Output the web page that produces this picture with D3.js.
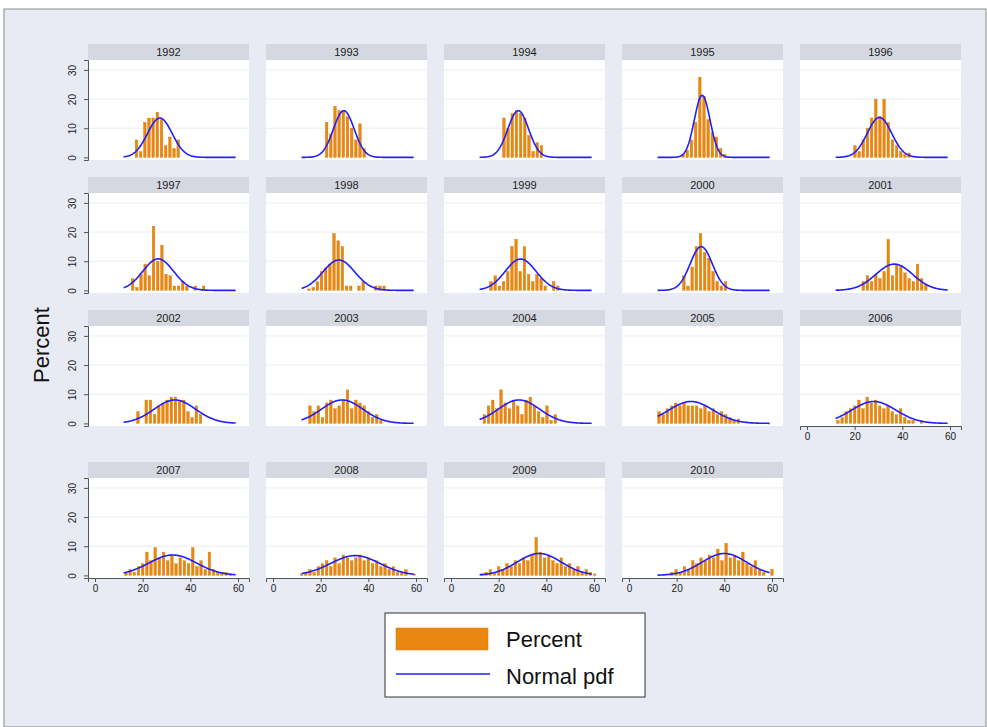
<!DOCTYPE html>
<html>
<head>
<meta charset="utf-8">
<script src="https://cdn.jsdelivr.net/npm/d3@7"></script>
<style>
  html, body { margin: 0; padding: 0; background: #ffffff; }
  svg { display: block; font-family: "Liberation Sans", Arial, sans-serif; }
</style>
</head>
<body>
<svg id="chart" width="987" height="727"></svg>
<script>
// Yearly histograms (percent per bin) with fitted normal curves.
const years = [1992, 1993, 1994, 1995, 1996, 1997, 1998, 1999, 2000, 2001,
               2002, 2003, 2004, 2005, 2006, 2007, 2008, 2009, 2010];

// Bin width shared by every panel, and the centre of each panel's first bin.
const binWidth = 1.75;
const firstBin = [17.4, 22.5, 22.2, 22.7, 20.1, 15.8, 15.1, 16.8, 23.0, 23.6,
                  18.0, 15.5, 14.0, 12.6, 13.0, 13.0, 12.0, 13.0, 18.0];

// Percent of observations in each consecutive bin.
const percents = [
  [6, 2, 12, 13.5, 13.5, 15.5, 13, 4, 7, 3, 6],
  [12, 8, 17.5, 16, 16, 14, 10, 6, 11.5, 3],
  [13.5, 10, 15, 16, 15, 13.5, 7.5, 2, 5, 4],
  [1, 2.5, 6, 12, 27.5, 21, 13, 8.5, 7, 3, 1],
  [4, 2, 6, 10, 13.5, 20, 14, 20, 12, 6, 4, 2, 1, 1.5],
  [4, 1, 5.5, 9, 5, 22, 10, 15.5, 5.5, 5, 1.5, 1.5, 3, 1.5, 0, 1.5, 0, 1.5],
  [0.5, 1, 3, 6.5, 7.7, 9, 19.5, 17, 15, 1.5, 1.5, 0, 1.5, 3, 0, 0, 1.5, 1.5, 1.5],
  [3, 5, 1.5, 3, 6.5, 15, 17.5, 6.5, 15, 5.5, 3, 5.5, 4, 1.5, 0, 3, 1.5],
  [5, 1.5, 8, 15, 19.5, 13, 11, 6.5, 3, 1.5, 3],
  [3, 5, 3, 5.5, 4, 6.5, 17.5, 5, 9, 8.5, 6, 4, 3, 9, 4, 2],
  [4, 0, 8, 8, 3, 6, 7, 8, 9, 9, 8, 8, 4, 2, 6, 3],
  [6, 4, 6, 2, 7, 8, 5, 6, 8, 11.5, 5, 8, 7, 6, 4, 2, 3, 1],
  [3, 6, 8, 5, 11.5, 7, 5, 8, 6, 3, 8, 9, 6, 4, 2, 6, 1, 3],
  [4, 3, 5, 6, 7, 6, 7, 6, 6, 6, 5, 6, 4, 5, 3, 4, 3, 2, 1, 1.5],
  [1, 2, 4, 5, 6, 8, 5, 9, 7, 8, 6, 5, 6, 4, 3, 5, 2, 1, 1, 0, 1],
  [1, 2, 1, 3, 4, 8, 5, 9.5, 6, 8, 5, 7, 4, 6, 5, 4, 9.5, 3, 5, 2, 8, 2, 1, 1, 1, 0.5],
  [0.5, 1, 2, 1, 3, 4, 5, 3, 6, 4, 7, 6, 5, 6, 7, 5, 6, 4, 5, 3, 4, 2, 3, 1, 1, 2, 0, 0.5],
  [0.5, 1, 2, 1, 3, 2, 4, 3, 5, 4, 6, 5, 7, 13, 8, 6, 7, 5, 4, 6, 3, 4, 2, 3, 1, 2, 1, 0.5],
  [1, 2, 1, 3, 2, 5, 4, 6, 5, 7, 6, 9, 5, 11, 6, 7, 5, 8, 4, 3, 5, 2, 1, 0, 2]
];

// Normal fit per year.
const means = [27.2, 29.7, 28.2, 30.7, 30.4, 26.5, 27.6, 29.2, 30.3, 36.6,
               33.5, 29.0, 28.5, 26.0, 28.0, 32.6, 34.5, 37.0, 40.0];
const sds   = [5.17, 4.36, 4.36, 3.28, 5.1, 6.46, 6.7, 6.5, 4.65, 7.75,
               8.7, 8.7, 8.7, 9.3, 9.3, 10.0, 10.3, 9.3, 9.3];

// Range over which the curves are traced (overall data range).
const curveRange = [12, 59];

const xTicks = [0, 20, 40, 60];
const yTicks = [0, 10, 20, 30];
const legendLabels = ["Percent", "Normal pdf"];
const yTitle = "Percent";

// ---- layout ----
const svg = d3.select("#chart");
const colLeft = [88, 266, 444, 622, 800];
const rowTop = [44, 177, 310, 462];
const panelW = 161, stripH = 16, plotH = 100;
const nCols = 5;

const barFill = "#e9870f", barEdge = "#d67a08", curveColor = "#1f1fff";
const bg = "#e8ebf3";

svg.append("rect")
  .attr("x", 4).attr("y", 9).attr("width", 982).attr("height", 718)
  .attr("fill", bg).attr("stroke", "#8a8a8a").attr("stroke-width", 1);

const x = d3.scaleLinear().domain([-2.94, 64.6]).range([0, panelW]);
const y = d3.scaleLinear().domain([-0.9, 33.4]).range([plotH, 0]);

const curveX = d3.range(curveRange[0], curveRange[1] + 0.001, 0.25);
const line = d3.line().x(d => x(d[0])).y(d => y(d[1])).curve(d3.curveLinear);

years.forEach((yr, i) => {
  const c = i % nCols, r = Math.floor(i / nCols);
  const g = svg.append("g")
    .attr("transform", `translate(${colLeft[c]},${rowTop[r]})`);

  // title strip
  g.append("rect").attr("x", 0).attr("y", 0).attr("width", panelW).attr("height", stripH)
    .attr("fill", "#d5d8e0");
  g.append("text").attr("x", panelW / 2).attr("y", 12)
    .attr("text-anchor", "middle").attr("font-size", 11).attr("fill", "#222")
    .text(yr);

  const p = g.append("g").attr("transform", `translate(0,${stripH})`);
  p.append("rect").attr("width", panelW).attr("height", plotH).attr("fill", "#ffffff");

  // faint gridlines
  p.selectAll("line.grid").data(yTicks.slice(1)).join("line")
    .attr("x1", 0).attr("x2", panelW)
    .attr("y1", d => y(d)).attr("y2", d => y(d))
    .attr("stroke", "#eceef2").attr("stroke-width", 1);

  // histogram bars, separated by thin gaps
  const bars = percents[i].map((v, k) => ({ c: firstBin[i] + k * binWidth, v }));
  const bw = x(binWidth) - x(0);
  p.selectAll("rect.bar").data(bars.filter(d => d.v > 0)).join("rect")
    .attr("x", d => x(d.c - binWidth / 2) + 0.8)
    .attr("width", bw - 1.6)
    .attr("y", d => y(d.v))
    .attr("height", d => y(0) - y(d.v))
    .attr("fill", barFill).attr("stroke", barEdge).attr("stroke-width", 0.4);

  // normal curve
  const m = means[i], s = sds[i];
  const pts = curveX.map(t => [t,
    100 * binWidth * Math.exp(-((t - m) ** 2) / (2 * s * s)) / (s * Math.sqrt(2 * Math.PI))]);
  p.append("path").datum(pts).attr("d", line)
    .attr("fill", "none").attr("stroke", curveColor).attr("stroke-width", 1.6);

  // y axis on the first column
  if (c === 0) {
    const ya = p.append("g").call(d3.axisLeft(y).tickValues(yTicks).tickSize(4).tickPadding(3));
    ya.select(".domain").attr("stroke", "#555");
    ya.selectAll(".tick line").attr("stroke", "#555");
    ya.selectAll(".tick text")
      .attr("font-size", 10).attr("fill", "#222")
      .attr("transform", "rotate(-90)")
      .attr("x", 0).attr("y", -12)
      .attr("dy", 0)
      .attr("text-anchor", "middle");
  }

  // x axis on panels with nothing below them
  const below = i + nCols;
  if (below >= years.length) {
    const xa = p.append("g").attr("transform", `translate(0,${plotH})`)
      .call(d3.axisBottom(x).tickValues(xTicks).tickSize(4).tickPadding(3));
    xa.select(".domain").attr("stroke", "#555");
    xa.selectAll(".tick line").attr("stroke", "#555");
    xa.selectAll(".tick text").attr("font-size", 10).attr("fill", "#222");
  }
});

// y title
svg.append("text")
  .attr("transform", "translate(49,345) rotate(-90)")
  .attr("text-anchor", "middle").attr("font-size", 22).attr("fill", "#111")
  .text(yTitle);

// legend
const lg = svg.append("g").attr("transform", "translate(385,613)");
lg.append("rect").attr("width", 260).attr("height", 84)
  .attr("fill", "#ffffff").attr("stroke", "#333").attr("stroke-width", 1);
lg.append("rect").attr("x", 11).attr("y", 15).attr("width", 92).attr("height", 22)
  .attr("fill", barFill).attr("stroke", barEdge).attr("stroke-width", 0.5);
lg.append("line").attr("x1", 11).attr("x2", 105).attr("y1", 61).attr("y2", 61)
  .attr("stroke", curveColor).attr("stroke-width", 1.6);
lg.selectAll("text.lab").data(legendLabels).join("text")
  .attr("x", 121).attr("y", (d, k) => 34 + k * 37)
  .attr("font-size", 22).attr("fill", "#111")
  .text(d => d);
</script>
</body>
</html>
